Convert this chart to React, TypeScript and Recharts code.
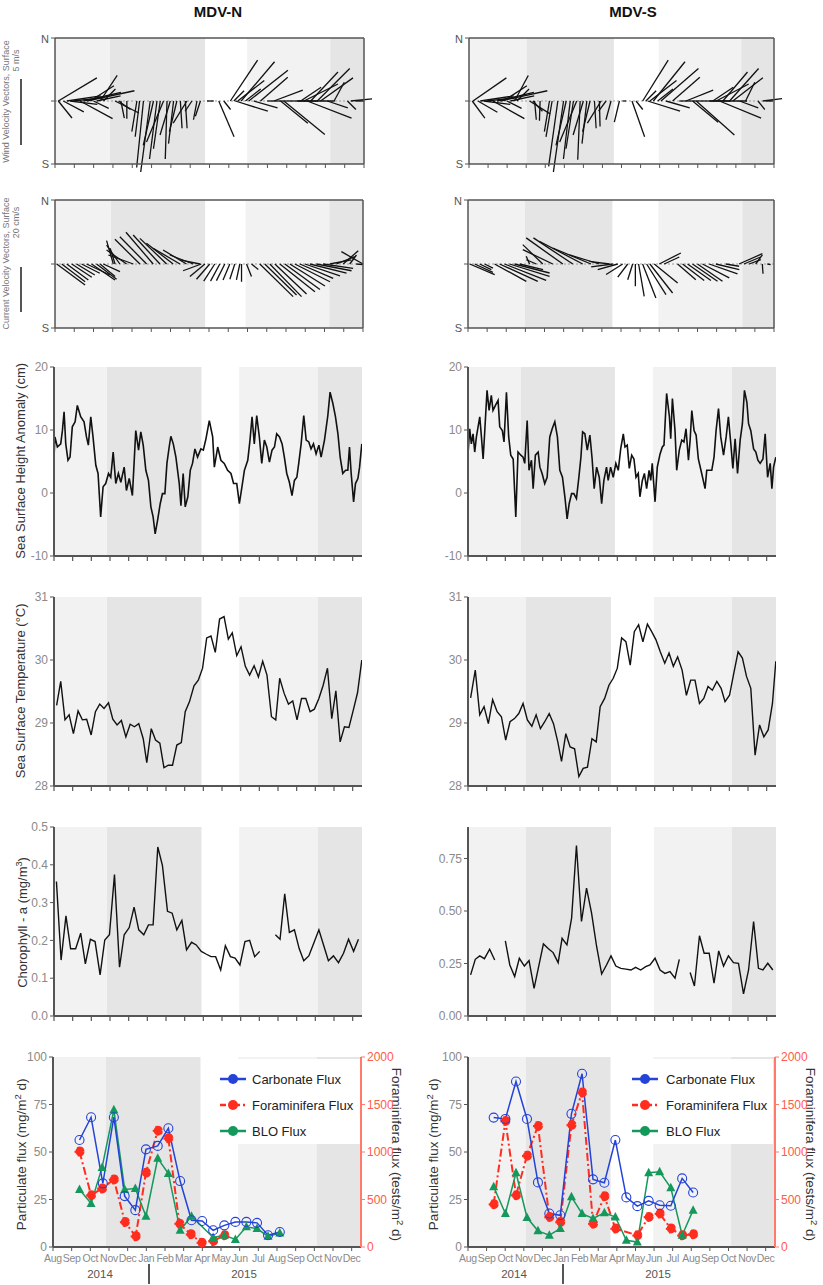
import React from "react"
import { ComposedChart, Line, XAxis, YAxis, ReferenceArea, ReferenceLine } from "recharts"

const FONT = '"Liberation Sans", Arial, sans-serif'
const AXIS = "#555"
const TICK = "#8a8a8a"
const LIGHT = "#f2f2f2"
const DARK = "#e5e5e5"
const BLUE = "#2443d8"
const RED = "#ff2d1f"
const GREEN = "#14985c"

const MONTHS = ["Aug", "Sep", "Oct", "Nov", "Dec", "Jan", "Feb", "Mar", "Apr", "May", "Jun", "Jul", "Aug", "Sep", "Oct", "Nov", "Dec"]
const MONTH_TICKS = MONTHS.map((_, i) => i)

type Stick = [number, number, number] // month, u, v
type Pt = [number, number | null] // month, value
type Season = [number, number, string]

// monsoon shading, month units from 1 Aug 2014
const seasonsWindN: Season[] = [[0, 2.85, LIGHT], [2.85, 7.77, DARK], [9.95, 14.25, LIGHT], [14.25, 16, DARK]]
const seasonsCurN: Season[] = [[0, 2.9, LIGHT], [2.9, 7.8, DARK], [9.9, 14.25, LIGHT], [14.25, 16, DARK]]
const seasonsWindS: Season[] = [[0, 3.02, LIGHT], [3.02, 7.6, DARK], [9.95, 14.28, LIGHT], [14.28, 16, DARK]]
const seasonsCurS: Season[] = [[0, 2.98, LIGHT], [2.98, 7.55, DARK], [9.95, 14.35, LIGHT], [14.35, 16, DARK]]
const seasonsN: Season[] = [[0, 2.84, LIGHT], [2.84, 7.9, DARK], [9.92, 14.14, LIGHT], [14.14, 16.5, DARK]]
const seasonsSshaS: Season[] = [[0, 2.84, LIGHT], [2.84, 7.87, DARK], [9.9, 14.14, LIGHT], [14.14, 16.5, DARK]]
const seasonsS: Season[] = [[0, 3.1, LIGHT], [3.1, 7.66, DARK], [9.96, 14.14, LIGHT], [14.14, 16.5, DARK]]

// wind sticks (m/s)
const windN: Stick[] = [
  [0.17, 2.9, 1.74], [0.17, 1.03, -1.28], [0.43, 1.54, -0.82], [0.61, 2.56, 0.38], [0.78, 2.05, -0.26],
  [0.95, 2.31, 0.26], [1.3, 2.44, -1.33], [1.47, 2.82, 0.64], [1.64, 3.59, 0.77], [1.82, 1.79, 1.15],
  [1.99, 1.15, -0.56], [2.16, 1.79, 0.38], [2.34, 1.28, 1.92], [2.51, 0.9, 0.9], [3.11, 1.79, -0.9],
  [3.29, 0.9, -0.64], [3.41, 0.26, -1.28], [3.72, 0, -1.33], [4.24, -0.38, -2.31], [4.38, -0.33, -2.69],
  [4.58, -0.51, -5.0], [4.93, -0.72, -5.38], [5.1, -0.77, -3.33], [5.28, -0.56, -4.36], [5.45, -0.51, -3.59],
  [5.62, -1.28, -3.08], [5.8, -0.13, -4.36], [5.97, -0.77, -2.56], [6.14, -0.38, -3.21], [6.31, -0.56, -2.31],
  [6.49, 0.13, -2.05], [6.75, 0.13, -2.05], [6.83, -1.03, -1.67], [7.09, -0.51, -0.77], [7.35, -0.26, -1.41],
  [7.53, -0.38, -1.15], [7.87, 0.51, 0], [8.48, 1.15, -2.69], [8.74, 0.51, -0.64], [9.08, 2.05, 3.08],
  [9.26, 0.77, 0.77], [9.34, 2.44, -0.77], [9.46, 2.0, 1.54], [9.64, 2.51, 2.95], [9.86, 1.15, 0.9],
  [10.03, 2.95, 2.31], [10.29, 1.79, -0.51], [10.64, 2.05, 1.79], [10.99, 1.79, 0], [11.33, 2.18, 0.82],
  [11.68, 2.05, -1.67], [11.85, 3.08, -2.51], [12.2, 2.05, 0], [12.54, 2.82, 0], [12.72, 1.54, 1.03],
  [12.89, 2.56, 1.28], [13.06, 3.33, -1.28], [13.24, 2.05, 2.18], [13.58, 2.44, 2.44], [13.75, 2.44, 1.74],
  [14.1, 1.54, -0.51], [14.45, 0.77, 1.41], [15.14, 0.64, -0.64], [15.31, 2.05, 0.21], [15.57, 0.64, 0],
]
const windS: Stick[] = [
  [0.21, 2.51, 1.74], [0.17, 0.95, -1.28], [0.47, 1.46, -0.85], [0.59, 2.51, 0.38], [0.77, 2.0, -0.26],
  [0.94, 2.26, 0.26], [1.26, 2.36, -1.33], [1.47, 2.77, 0.64], [1.64, 3.54, 0.77], [1.82, 1.74, 1.15],
  [1.99, 1.1, -0.56], [2.17, 1.79, 0.38], [2.39, 1.03, 1.92], [2.51, 0.92, 0.9], [3.18, 1.54, -0.97],
  [3.35, 0.72, -0.77], [3.44, 0.13, -1.41], [3.73, -0.05, -1.49], [4.22, -0.38, -2.31], [4.36, -0.46, -2.69],
  [4.66, -0.69, -4.92], [4.96, -0.77, -5.38], [5.1, -0.77, -3.33], [5.31, -0.51, -4.36], [5.48, -0.56, -3.59],
  [5.65, -1.28, -3.08], [5.83, -0.18, -4.41], [6.0, -0.77, -2.56], [6.18, -0.36, -3.21], [6.35, -0.56, -2.31],
  [6.58, 0.13, -2.05], [6.84, 0.05, -1.92], [6.93, -1.03, -1.67], [7.19, -0.56, -0.77], [7.45, -0.38, -1.41],
  [7.89, -0.38, -1.59], [8.06, 0.26, 0], [8.55, 0.95, -2.69], [8.76, 0.51, -0.64], [9.11, 1.92, 3.08],
  [9.28, 0.77, 0.77], [9.37, 2.44, -0.77], [9.49, 2.0, 1.54], [9.67, 2.38, 2.95], [9.9, 1.15, 0.9],
  [10.07, 2.82, 2.44], [10.33, 1.79, -0.51], [10.68, 2.05, 1.79], [11.03, 1.79, 0], [11.38, 2.05, 0.82],
  [11.73, 1.92, -1.59], [11.92, 2.87, -2.56], [12.27, 2.05, 0], [12.62, 2.82, 0], [12.79, 1.54, 1.03],
  [12.97, 2.44, 1.28], [13.14, 3.13, -1.28], [13.32, 1.85, 2.18], [13.67, 2.18, 2.44], [13.84, 2.26, 1.74],
  [14.19, 1.41, -0.51], [14.51, 0.69, 1.41], [15.16, 0.51, -0.64], [15.41, 1.67, 0.21], [15.59, 0.51, 0],
]

// surface current sticks (cm/s)
const curN: Stick[] = [
  [0.09, 12.6, -9.3], [0.35, 10.4, -7.9], [0.61, 9.6, -7.1], [0.87, 8.9, -5.9], [1.12, 8.1, -4.9],
  [1.38, 8.1, -4.1], [1.64, 10.4, -4.9], [1.9, 10.4, -7.1], [2.16, 8.9, -6.8], [2.34, 6.7, -5.6],
  [2.51, 7.4, -3.4], [3.03, -3.0, 10.4], [3.12, -2.2, 7.0], [3.37, -5.9, 8.4], [3.72, -8.9, 6.2],
  [4.07, -11.1, 4.0], [4.41, -11.1, 11.0], [4.76, -11.9, 12.1], [5.1, -12.1, 14.1], [5.45, -11.9, 12.9],
  [5.8, -11.9, 11.4], [6.14, -11.9, 9.2], [6.49, -11.9, 7.0], [6.83, -10.4, 6.2], [7.18, -10.4, 4.0],
  [7.53, -8.9, 1.8], [7.6, -8.1, -3.0], [7.79, -6.7, -5.6], [8.04, -5.9, -6.8], [8.3, -4.9, -7.6],
  [8.56, -4.1, -7.6], [8.82, -3.7, -7.4], [9.08, -3.0, -7.1], [9.34, -2.2, -6.8], [9.6, -1.5, -7.1],
  [9.69, 0, -7.9], [9.95, 2.2, -5.6], [10.21, 3.0, -2.4], [10.64, 14.8, -14.5], [10.9, 14.1, -13.8],
  [11.16, 14.1, -14.5], [11.42, 14.1, -13.3], [11.68, 15.6, -12.3], [11.94, 15.6, -11.3], [12.2, 15.6, -9.8],
  [12.46, 15.6, -7.9], [12.72, 14.8, -6.4], [12.98, 15.6, -5.3], [13.24, 16.3, -4.1], [13.58, 15.6, -3.0],
  [13.93, 13.3, -1.9], [14.27, 9.6, 1.8], [14.62, 8.1, 3.3], [14.97, 6.7, 5.9], [15.31, 3.0, 4.0],
  [15.65, 3.0, -0.3], [16.0, -9.6, 5.5],
]
const curS: Stick[] = [
  [0.09, 11.1, -4.7], [0.35, 8.1, -3.7], [0.61, 5.2, -2.5], [0.87, 3.7, -1.8], [1.39, 14.1, -7.7],
  [1.65, 17.0, -7.7], [1.91, 18.5, -7.3], [2.17, 17.8, -5.5], [2.43, 15.6, -4.0], [2.7, 10.4, -2.5],
  [3.22, -1.5, 3.4], [3.57, -4.4, 1.9], [3.91, -8.9, 8.6], [4.43, -13.3, 6.4], [4.96, -16.3, 11.6],
  [5.48, -17.5, 11.6], [6.0, -19.3, 10.1], [6.43, -17.0, 7.1], [6.87, -13.3, 4.1], [7.39, -8.9, 1.2],
  [7.57, -9.6, -1.3], [7.83, -8.9, -2.5], [8.09, -7.4, -4.7], [8.35, -4.4, -5.8], [8.61, -2.2, -7.0],
  [8.75, 0, -9.9], [8.92, 2.5, -14.4], [9.13, 5.9, -15.1], [9.34, 8.6, -13.6], [9.51, 10.1, -12.9],
  [9.74, 10.4, -8.4], [10.0, 9.6, 4.9], [10.26, 6.7, 3.1], [10.96, 8.1, -7.0], [11.22, 9.6, -7.3],
  [11.48, 10.4, -7.3], [11.74, 11.1, -7.7], [12.0, 11.1, -7.7], [12.26, 11.9, -6.2], [12.61, 12.6, -4.4],
  [12.96, 10.4, -2.5], [13.48, 5.9, -1.0], [14.17, 10.4, 4.6], [14.43, 7.4, 3.1], [14.7, 5.2, 1.9],
  [15.04, 3.0, 4.1], [15.39, 0.3, -4.3], [15.65, 1.5, -0.3],
]

// sea surface height anomaly (cm)
const sshaN: Pt[] = [
  [0, 5.7], [0.05, 8.9], [0.18, 7.3], [0.36, 7.8], [0.45, 9.9], [0.54, 12.9], [0.63, 7.8], [0.75, 5.2], [0.86, 5.7],
  [0.98, 10.5], [1.13, 11.3], [1.25, 13.9], [1.43, 12.1], [1.61, 11.3], [1.74, 8.9], [1.84, 7.6], [1.97, 12.1],
  [2.09, 8.9], [2.24, 4.4], [2.36, 3.1], [2.5, -3.8], [2.63, 1.0], [2.77, 1.5], [2.92, 3.1], [3.04, 2.5], [3.17, 6.5],
  [3.31, 1.5], [3.45, 3.1], [3.58, 1.7], [3.76, 4.1], [3.88, 0.4], [4.03, 2.3], [4.2, -0.4], [4.29, 4.7], [4.38, 9.9],
  [4.53, 6.8], [4.65, 9.7], [4.78, 7.6], [4.92, 3.6], [5.06, 2.0], [5.19, -2.2], [5.31, -3.8], [5.42, -6.5],
  [5.55, -4.3], [5.69, -1.7], [5.81, -0.1], [5.94, -0.1], [6.05, 4.7], [6.17, 7.3], [6.26, 9.0], [6.39, 7.8],
  [6.53, 5.7], [6.71, 1.5], [6.8, -2.0], [6.92, 3.1], [7.03, -2.2], [7.17, -0.6], [7.3, 3.6], [7.42, 4.7], [7.55, 7.0],
  [7.69, 5.7], [7.87, 7.0], [8.0, 6.8], [8.14, 8.6], [8.32, 11.5], [8.5, 8.9], [8.59, 4.1], [8.77, 7.3], [8.94, 5.2],
  [9.12, 4.7], [9.3, 3.6], [9.48, 3.1], [9.62, 1.5], [9.79, 1.5], [9.93, -1.7], [10.07, 1.0], [10.2, 3.6],
  [10.38, 5.2], [10.5, 8.4], [10.61, 12.1], [10.73, 7.8], [10.86, 12.3], [11.0, 8.9], [11.13, 4.7], [11.27, 8.4],
  [11.4, 7.3], [11.54, 4.9], [11.68, 6.8], [11.81, 7.3], [11.93, 9.4], [12.08, 8.9], [12.22, 7.8], [12.34, 5.7],
  [12.47, 3.1], [12.61, 1.7], [12.75, -0.4], [12.88, 2.0], [13.01, 2.5], [13.11, 4.7], [13.24, 7.8], [13.38, 12.3],
  [13.51, 8.4], [13.65, 8.1], [13.77, 7.0], [13.9, 7.8], [14.04, 6.2], [14.19, 7.6], [14.31, 5.7], [14.49, 8.4],
  [14.67, 12.3], [14.79, 16.0], [14.94, 14.2], [15.08, 12.1], [15.21, 9.4], [15.33, 5.7], [15.47, 3.1],
  [15.62, 3.6], [15.74, 3.6], [15.83, 7.3], [15.92, 3.1], [16.05, -1.4], [16.15, 1.5], [16.28, 2.3], [16.37, 4.1],
  [16.49, 7.8],
]
const sshaS: Pt[] = [
  [0, 6.2], [0.09, 10.2], [0.18, 7.8], [0.27, 9.4], [0.36, 6.5], [0.45, 8.9], [0.54, 10.5], [0.63, 12.1], [0.72, 8.9],
  [0.81, 5.4], [0.89, 9.4], [1.02, 16.3], [1.13, 13.1], [1.25, 15.5], [1.34, 13.1], [1.47, 13.9], [1.61, 14.7],
  [1.7, 10.5], [1.84, 9.9], [1.93, 8.1], [2.06, 16.0], [2.18, 8.9], [2.29, 6.0], [2.42, 5.4], [2.56, -3.8],
  [2.68, 6.5], [2.83, 6.0], [2.95, 5.7], [3.04, 4.7], [3.17, 11.5], [3.27, 3.6], [3.4, 5.2], [3.49, 0.7], [3.61, 6.0],
  [3.76, 6.5], [3.85, 4.1], [3.97, 3.1], [4.11, 1.5], [4.24, 2.5], [4.38, 8.9], [4.51, 10.2], [4.65, 11.3],
  [4.79, 8.9], [4.92, 3.6], [5.06, 2.5], [5.19, -0.6], [5.31, -4.1], [5.42, -1.7], [5.55, -0.1], [5.67, -0.1],
  [5.81, -0.9], [5.94, 2.5], [6.05, 5.7], [6.14, 9.7], [6.26, 9.4], [6.39, 6.8], [6.53, 9.2], [6.65, 5.4],
  [6.76, 0.7], [6.89, 4.1], [7.03, 2.5], [7.16, -1.7], [7.28, 2.0], [7.42, 4.1], [7.51, 2.0], [7.64, 4.1],
  [7.78, 2.5], [7.92, 4.7], [8.05, 3.6], [8.18, 7.0], [8.32, 9.4], [8.41, 7.3], [8.53, 7.6], [8.64, 3.9],
  [8.77, 6.0], [8.89, 5.4], [9.0, 2.5], [9.12, 3.1], [9.21, -0.6], [9.34, 2.0], [9.45, 3.1], [9.57, 0.7],
  [9.7, 3.6], [9.79, 2.0], [9.87, 4.7], [10.02, -1.4], [10.14, 4.1], [10.29, 6.2], [10.41, 7.3], [10.5, 7.6],
  [10.64, 15.8], [10.79, 12.1], [10.86, 8.6], [10.95, 15.0], [11.09, 9.9], [11.18, 3.6], [11.32, 6.8], [11.45, 8.4],
  [11.57, 8.1], [11.68, 10.2], [11.81, 5.2], [11.9, 8.4], [11.99, 13.1], [12.11, 9.9], [12.22, 9.2], [12.34, 5.4],
  [12.52, 3.1], [12.7, 0.7], [12.79, 3.6], [12.93, 3.6], [13.06, 3.6], [13.18, 5.7], [13.29, 9.9], [13.42, 13.4],
  [13.54, 8.9], [13.69, 6.0], [13.83, 8.9], [13.95, 12.1], [14.08, 7.8], [14.19, 3.9], [14.31, 8.6], [14.44, 3.1],
  [14.58, 8.4], [14.7, 11.0], [14.81, 16.3], [14.94, 14.4], [15.03, 11.0], [15.15, 9.9], [15.3, 7.0], [15.42, 6.5],
  [15.53, 5.2], [15.65, 4.7], [15.8, 5.4], [15.92, 9.4], [16.05, 2.5], [16.19, 4.7], [16.28, 0.7], [16.37, 4.1],
  [16.49, 5.7],
]

// sea surface temperature (deg C)
const sstN: Pt[] = [
  [0.14, 29.28], [0.36, 29.66], [0.59, 29.05], [0.81, 29.13], [1.04, 28.83], [1.29, 29.19], [1.52, 29.05],
  [1.75, 29.06], [1.99, 28.81], [2.22, 29.18], [2.45, 29.3], [2.68, 29.23], [2.92, 29.32], [3.15, 29.06],
  [3.38, 28.97], [3.61, 29.04], [3.85, 28.78], [4.08, 28.98], [4.31, 28.94], [4.54, 28.99], [4.78, 28.75],
  [4.97, 28.37], [5.21, 28.91], [5.44, 28.73], [5.67, 28.68], [5.89, 28.29], [6.12, 28.33], [6.35, 28.33],
  [6.58, 28.65], [6.82, 28.69], [7.03, 29.18], [7.26, 29.34], [7.5, 29.59], [7.73, 29.68], [7.96, 29.87],
  [8.18, 30.35], [8.41, 30.38], [8.64, 30.12], [8.87, 30.65], [9.11, 30.69], [9.34, 30.33], [9.55, 30.43],
  [9.79, 30.07], [10.02, 30.21], [10.25, 29.9], [10.48, 29.76], [10.72, 29.91], [10.95, 29.73], [11.18, 29.98],
  [11.41, 29.76], [11.65, 29.1], [11.88, 29.05], [12.09, 29.71], [12.33, 29.47], [12.56, 29.3], [12.79, 29.35],
  [13.02, 29.05], [13.26, 29.39], [13.49, 29.39], [13.72, 29.18], [13.95, 29.22], [14.19, 29.39], [14.42, 29.6],
  [14.65, 29.87], [14.88, 29.07], [15.1, 29.51], [15.33, 28.7], [15.56, 28.94], [15.8, 28.93], [16.03, 29.2],
  [16.26, 29.48], [16.49, 30.0],
]
const sstS: Pt[] = [
  [0.14, 29.4], [0.39, 29.84], [0.63, 29.13], [0.86, 29.26], [1.09, 28.99], [1.32, 29.37], [1.56, 29.18],
  [1.79, 29.1], [2.02, 28.73], [2.25, 29.02], [2.49, 29.07], [2.72, 29.15], [2.95, 29.31], [3.18, 29.05],
  [3.42, 28.95], [3.65, 29.13], [3.88, 28.91], [4.11, 29.02], [4.35, 29.15], [4.58, 28.99], [4.81, 28.7],
  [5.01, 28.39], [5.24, 28.83], [5.47, 28.62], [5.71, 28.59], [5.94, 28.15], [6.17, 28.28], [6.4, 28.3],
  [6.64, 28.75], [6.87, 28.7], [7.08, 29.26], [7.32, 29.39], [7.55, 29.6], [7.78, 29.71], [8.0, 29.87],
  [8.23, 30.35], [8.46, 30.29], [8.69, 29.92], [8.91, 30.45], [9.14, 30.56], [9.37, 30.29], [9.61, 30.57],
  [9.84, 30.45], [10.07, 30.32], [10.3, 30.13], [10.54, 29.95], [10.77, 30.11], [11.0, 29.9], [11.23, 30.05],
  [11.47, 29.84], [11.7, 29.44], [11.93, 29.68], [12.16, 29.68], [12.4, 29.31], [12.63, 29.39], [12.86, 29.58],
  [13.09, 29.52], [13.33, 29.66], [13.56, 29.55], [13.77, 29.34], [14.01, 29.44], [14.24, 29.79], [14.47, 30.13],
  [14.7, 30.03], [14.92, 29.74], [15.15, 29.55], [15.38, 28.49], [15.62, 28.97], [15.85, 28.78], [16.08, 28.89],
  [16.31, 29.31], [16.49, 29.98],
]

// chlorophyll-a (mg/m3); null = missing
const chlN: Pt[] = [
  [0.13, 0.356], [0.38, 0.148], [0.64, 0.265], [0.89, 0.178], [1.16, 0.178], [1.43, 0.219], [1.68, 0.138],
  [1.95, 0.203], [2.2, 0.197], [2.47, 0.109], [2.72, 0.201], [2.97, 0.215], [3.24, 0.374], [3.51, 0.129],
  [3.76, 0.215], [4.03, 0.234], [4.29, 0.288], [4.54, 0.228], [4.81, 0.215], [5.06, 0.241], [5.31, 0.241],
  [5.56, 0.447], [5.81, 0.398], [6.08, 0.277], [6.33, 0.272], [6.58, 0.228], [6.85, 0.253], [7.1, 0.175],
  [7.37, 0.195], [7.62, 0.188], [7.89, 0.171], [8.14, 0.164], [8.41, 0.157], [8.66, 0.157], [8.93, 0.122],
  [9.18, 0.186], [9.45, 0.157], [9.7, 0.153], [9.96, 0.135], [10.23, 0.197], [10.48, 0.2], [10.75, 0.157],
  [11.02, 0.171], [11.45, null], [11.86, 0.215], [12.11, 0.203], [12.36, 0.323], [12.61, 0.221], [12.88, 0.228],
  [13.13, 0.179], [13.38, 0.146], [13.65, 0.159], [13.92, 0.193], [14.19, 0.228], [14.44, 0.188], [14.7, 0.146],
  [14.97, 0.159], [15.24, 0.141], [15.51, 0.166], [15.78, 0.203], [16.05, 0.171], [16.31, 0.203],
]
const chlS: Pt[] = [
  [0.14, 0.196], [0.39, 0.27], [0.63, 0.286], [0.88, 0.273], [1.16, 0.318], [1.43, 0.267], [1.7, null],
  [2.0, 0.358], [2.24, 0.243], [2.5, 0.188], [2.75, 0.275], [3.02, 0.238], [3.27, 0.264], [3.54, 0.132],
  [4.04, 0.343], [4.31, 0.32], [4.56, 0.302], [4.83, 0.254], [5.04, 0.37], [5.3, 0.339], [5.55, 0.466],
  [5.81, 0.812], [6.08, 0.45], [6.35, 0.609], [6.62, 0.49], [6.89, 0.331], [7.16, 0.2], [7.42, 0.243],
  [7.66, 0.286], [7.92, 0.238], [8.19, 0.227], [8.46, 0.223], [8.73, 0.219], [8.98, 0.232], [9.25, 0.219],
  [9.52, 0.235], [9.75, 0.243], [10.02, 0.275], [10.29, 0.219], [10.55, 0.203], [10.82, 0.211], [11.09, 0.18],
  [11.32, 0.27], [11.6, null], [11.9, 0.207], [12.13, 0.143], [12.4, 0.382], [12.65, 0.299], [12.92, 0.299],
  [13.18, 0.156], [13.43, 0.31], [13.69, 0.238], [13.95, 0.286], [14.22, 0.254], [14.49, 0.251], [14.76, 0.105],
  [15.03, 0.219], [15.3, 0.45], [15.56, 0.227], [15.8, 0.219], [16.06, 0.251], [16.33, 0.219],
]

// sediment trap fluxes: carbonate & BLO in mg/m2 d, foraminifera in tests/m2 d
const carbN: Pt[] = [
  [1.42, 56.3], [2.04, 68.3], [2.67, 33.5], [3.26, 68.3], [3.84, 26.8], [4.41, 19.4], [4.98, 51.4], [5.61, 53.2],
  [6.18, 62.5], [6.81, 34.7], [7.42, 14.1], [7.99, 13.7], [8.58, 8.8], [9.18, 11.4], [9.77, 13.2], [10.36, 13.2],
  [10.93, 12.7], [11.52, 6.2], [12.15, 7.9],
]
const foramN: Pt[] = [
  [1.42, 1004], [2.04, 546], [2.63, 616], [3.26, 711], [3.85, 264], [4.43, 113], [4.98, 782], [5.61, 1225],
  [6.18, 1144], [6.77, 246], [7.38, 134], [7.96, 46], [8.58, 63], [9.18, 123],
]
const bloN: Pt[] = [
  [1.42, 30.3], [2.04, 22.9], [2.63, 41.9], [3.26, 72.2], [3.84, 30.3], [4.41, 30.8], [4.98, 16.2], [5.61, 46.7],
  [6.18, 38.7], [6.81, 8.8], [7.42, 16.2], [8.58, 5.0], [9.18, 6.2], [9.77, 4.0], [10.36, 10.6], [10.93, 9.7],
  [11.52, 5.6], [12.15, 7.4],
]
const carbS: Pt[] = [
  [1.38, 68.1], [2.01, 67.4], [2.58, 87.1], [3.17, 67.4], [3.76, 34.0], [4.37, 17.6], [4.96, 16.7], [5.56, 70.1],
  [6.13, 91.2], [6.72, 35.6], [7.33, 33.8], [7.92, 56.3], [8.51, 26.1], [9.1, 21.5], [9.71, 24.3], [10.3, 22.0],
  [10.9, 21.7], [11.51, 36.1], [12.1, 28.7],
]
const foramS: Pt[] = [
  [1.38, 451], [2.01, 1327], [2.58, 546], [3.17, 961], [3.76, 1275], [4.37, 317], [4.96, 264], [5.56, 1285],
  [6.13, 1627], [6.72, 246], [7.33, 535], [7.92, 194], [9.1, 123], [9.71, 317], [10.3, 352], [10.9, 194],
  [11.51, 123], [12.1, 134],
]
const bloS: Pt[] = [
  [1.38, 31.7], [2.01, 17.6], [2.58, 39.1], [3.17, 15.5], [3.76, 8.5], [4.37, 6.2], [4.96, 9.7], [5.56, 26.4],
  [6.13, 17.6], [6.72, 15.0], [7.33, 18.0], [7.92, 15.8], [8.51, 3.5], [9.1, 2.6], [9.71, 39.1], [10.3, 39.6],
  [10.9, 31.2], [11.51, 6.2], [12.1, 19.4],
]

const LEGEND = [
  { name: "Carbonate Flux", color: BLUE, dash: undefined },
  { name: "Foraminifera Flux", color: RED, dash: "6 3 2 3" },
  { name: "BLO Flux", color: GREEN, dash: undefined },
]

const toRows = (pts: Pt[]) => pts.map(([t, v]) => ({ t, v }))

const shade = (seasons: Season[], yAxisId?: string) =>
  seasons.map(([a, b, c], i) => (
    <ReferenceArea key={"s" + i} x1={a} x2={b} yAxisId={yAxisId as any} fill={c} fillOpacity={1} stroke="none" />
  ))

function VText({ cx, cy, angle = -90, size = 13, color = "#333", children }: any) {
  return (
    <div
      style={{
        position: "absolute", left: cx - 200, top: cy - size * 0.6, width: 400, textAlign: "center",
        fontSize: size, lineHeight: `${size * 1.2}px`, color, whiteSpace: "nowrap", transform: `rotate(${angle}deg)`,
      }}
    >
      {children}
    </div>
  )
}

function VectorPanel({ x0, x1, y0, y1, sticks, pxPerUnit, seasons }: any) {
  const LW = 28, RW = 8, TOP = 5, BH = 8
  const w = x1 - x0, h = y1 - y0
  const kx = pxPerUnit / (w / 16)
  const ky = pxPerUnit / (h / 2)
  return (
    <div style={{ position: "absolute", left: x0 - LW, top: y0 - TOP }}>
      <ComposedChart width={w + LW + RW} height={h + TOP + BH} margin={{ top: TOP, right: 0, left: 0, bottom: 0 }}>
        {shade(seasons)}
        <XAxis type="number" dataKey="t" domain={[0, 16]} ticks={MONTH_TICKS} tickFormatter={() => ""} height={BH}
          tickSize={4} axisLine={{ stroke: AXIS, strokeWidth: 1.5 }} tickLine={{ stroke: AXIS }} allowDataOverflow />
        <YAxis type="number" domain={[-1, 1]} ticks={[-1, 0, 1]} width={LW} tickSize={4}
          tickFormatter={(v: number) => (v === 1 ? "N" : v === -1 ? "S" : "")}
          tick={{ fill: AXIS, fontSize: 11 }} axisLine={{ stroke: AXIS, strokeWidth: 1.5 }} tickLine={{ stroke: AXIS }} allowDataOverflow />
        <YAxis yAxisId="r" orientation="right" type="number" domain={[-1, 1]} ticks={[-1, 0, 1]} width={RW} tickSize={4}
          tickFormatter={() => ""} axisLine={{ stroke: AXIS, strokeWidth: 1.5 }} tickLine={{ stroke: AXIS }} />
        <ReferenceLine y={1} stroke={AXIS} strokeWidth={1.5} />
        <ReferenceLine y={0} stroke="#9a9a9a" strokeDasharray="2 2" />
        {sticks.map(([t, u, v]: Stick, i: number) => (
          <ReferenceLine key={i} ifOverflow="visible" stroke="#111" strokeWidth={1.3}
            segment={[{ x: t, y: 0 }, { x: t + u * kx, y: v * ky }]} />
        ))}
      </ComposedChart>
    </div>
  )
}

function SeriesPanel({ x0, x1, y0, y1, pts, domain, ticks, fmt, seasons, sw = 1.4 }: any) {
  const LW = 40, TOP = 8, BH = 8
  return (
    <div style={{ position: "absolute", left: x0 - LW, top: y0 - TOP }}>
      <ComposedChart width={x1 - x0 + LW + 4} height={y1 - y0 + TOP + BH} margin={{ top: TOP, right: 4, left: 0, bottom: 0 }}>
        {shade(seasons)}
        <XAxis type="number" dataKey="t" domain={[0, 16.5]} ticks={MONTH_TICKS} tickFormatter={() => ""} height={BH}
          tickSize={5} axisLine={{ stroke: AXIS, strokeWidth: 2 }} tickLine={{ stroke: AXIS, strokeWidth: 1.2 }} allowDataOverflow />
        <YAxis type="number" domain={domain} ticks={ticks} tickFormatter={fmt} width={LW} tickSize={4}
          tick={{ fill: TICK, fontSize: 12 }} axisLine={{ stroke: AXIS, strokeWidth: 2 }} tickLine={{ stroke: AXIS }} allowDataOverflow />
        <Line data={toRows(pts)} dataKey="v" type="linear" stroke="#111" strokeWidth={sw} dot={false}
          connectNulls={false} isAnimationActive={false} />
      </ComposedChart>
    </div>
  )
}

const Tri = (props: any) => {
  const { cx, cy, index } = props
  if (cx == null || cy == null) return <g key={"n" + index} />
  return <polygon key={"t" + index} points={`${cx},${cy - 5} ${cx - 4.5},${cy + 3.5} ${cx + 4.5},${cy + 3.5}`} fill={GREEN} />
}

function FluxPanel({ x0, x1, y0, y1, carb, foram, blo, seasons }: any) {
  const LW = 40, RW = 40, TOP = 8, BH = 24
  return (
    <div style={{ position: "absolute", left: x0 - LW, top: y0 - TOP }}>
      <ComposedChart width={x1 - x0 + LW + RW} height={y1 - y0 + TOP + BH} margin={{ top: TOP, right: 0, left: 0, bottom: 0 }}>
        {shade(seasons, "l")}
        <XAxis type="number" dataKey="t" domain={[0, 16.5]} ticks={MONTH_TICKS} tickFormatter={(i: number) => MONTHS[i]}
          interval={0} height={BH} tickSize={4} tickMargin={4} tick={{ fill: TICK, fontSize: 10.5, letterSpacing: -0.3 }}
          axisLine={{ stroke: AXIS, strokeWidth: 2 }} tickLine={{ stroke: AXIS }} allowDataOverflow />
        <YAxis yAxisId="l" type="number" domain={[0, 100]} ticks={[0, 25, 50, 75, 100]} width={LW} tickSize={4}
          tick={{ fill: TICK, fontSize: 12 }} axisLine={{ stroke: AXIS, strokeWidth: 2 }} tickLine={{ stroke: AXIS }} />
        <YAxis yAxisId="r" orientation="right" type="number" domain={[0, 2000]} ticks={[0, 500, 1000, 1500, 2000]}
          width={RW} tickSize={4} tick={{ fill: "#ff5a4a", fontSize: 12 }}
          axisLine={{ stroke: "#ff7a6a", strokeWidth: 2 }} tickLine={{ stroke: "#ff7a6a" }} />
        <Line yAxisId="r" data={toRows(foram)} dataKey="v" stroke={RED} strokeWidth={2} strokeDasharray="8 3 2 3"
          dot={{ r: 4, fill: RED, stroke: RED }} isAnimationActive={false} />
        <Line yAxisId="l" data={toRows(blo)} dataKey="v" stroke={GREEN} strokeWidth={1.5} dot={Tri} isAnimationActive={false} />
        <Line yAxisId="l" data={toRows(carb)} dataKey="v" stroke={BLUE} strokeWidth={1.5}
          dot={{ r: 4.5, fill: "none", stroke: BLUE, strokeWidth: 1.1 }} isAnimationActive={false} />
      </ComposedChart>
    </div>
  )
}

function FluxLegend({ left, top, width, mx, tx }: any) {
  return (
    <div style={{ position: "absolute", left, top, width, height: 85, background: "#fff" }}>
      {LEGEND.map((it, i) => (
        <div key={i} style={{ position: "absolute", left: mx, top: 13 + i * 26, height: 14, display: "flex", alignItems: "center" }}>
          <svg width={26} height={14}>
            <line x1={0} x2={26} y1={7} y2={7} stroke={it.color} strokeWidth={2.5} strokeDasharray={it.dash} />
            <circle cx={13} cy={7} r={5} fill={it.color} />
          </svg>
          <span style={{ marginLeft: tx - mx - 26, fontSize: 13, color: "#222", whiteSpace: "nowrap" }}>{it.name}</span>
        </div>
      ))}
    </div>
  )
}

function YearLabels({ x0 }: any) {
  return (
    <>
      <div style={{ position: "absolute", left: x0 + 46 - 20, top: 1268, width: 40, textAlign: "center", fontSize: 11.5, color: "#555" }}>2014</div>
      <div style={{ position: "absolute", left: x0 + 94, top: 1264, width: 1.5, height: 20, background: "#555" }} />
      <div style={{ position: "absolute", left: x0 + 190 - 20, top: 1268, width: 40, textAlign: "center", fontSize: 11.5, color: "#555" }}>2015</div>
    </>
  )
}

export default function App() {
  const sup = (s: string) => <sup style={{ fontSize: "0.7em" }}>{s}</sup>
  return (
    <div style={{ position: "absolute", left: 0, top: 0, width: 823, height: 1285, background: "#fff", fontFamily: FONT, overflow: "hidden" }}>
      <div style={{ position: "absolute", left: 168, top: 3, width: 100, textAlign: "center", fontSize: 15, fontWeight: "bold", color: "#111" }}>MDV-N</div>
      <div style={{ position: "absolute", left: 583, top: 3, width: 100, textAlign: "center", fontSize: 15, fontWeight: "bold", color: "#111" }}>MDV-S</div>

      {/* wind */}
      <VText cx={6} cy={101} size={9} color="#777">Wind Velocity Vectors, Surface</VText>
      <VText cx={16} cy={60} size={9} color="#777">5 m/s</VText>
      <div style={{ position: "absolute", left: 20, top: 79, width: 1.5, height: 66, background: "#555" }} />
      <VectorPanel x0={55} x1={364} y0={38} y1={164} sticks={windN} pxPerUnit={13.3} seasons={seasonsWindN} />
      <VectorPanel x0={469} x1={774} y0={38} y1={164} sticks={windS} pxPerUnit={13.3} seasons={seasonsWindS} />

      {/* surface current */}
      <VText cx={6} cy={263} size={9} color="#777">Current Velocity Vectors, Surface</VText>
      <VText cx={16} cy={222} size={9} color="#777">20 cm/s</VText>
      <div style={{ position: "absolute", left: 20, top: 267, width: 1.5, height: 45, background: "#555" }} />
      <VectorPanel x0={55} x1={363} y0={200} y1={328} sticks={curN} pxPerUnit={2.25} seasons={seasonsCurN} />
      <VectorPanel x0={468} x1={774} y0={200} y1={328} sticks={curS} pxPerUnit={2.25} seasons={seasonsCurS} />

      {/* SSHA */}
      <VText cx={21} cy={461}>Sea Surface Height Anomaly (cm)</VText>
      <SeriesPanel x0={54} x1={362} y0={367} y1={556} pts={sshaN} domain={[-10, 20]} ticks={[-10, 0, 10, 20]} seasons={seasonsN} sw={1.6} />
      <SeriesPanel x0={468} x1={776} y0={367} y1={556} pts={sshaS} domain={[-10, 20]} ticks={[-10, 0, 10, 20]} seasons={seasonsSshaS} sw={1.6} />

      {/* SST */}
      <VText cx={21} cy={691}>Sea Surface Temperature (°C)</VText>
      <SeriesPanel x0={54} x1={362} y0={597} y1={786} pts={sstN} domain={[28, 31]} ticks={[28, 29, 30, 31]} seasons={seasonsN} />
      <SeriesPanel x0={468} x1={776} y0={597} y1={786} pts={sstS} domain={[28, 31]} ticks={[28, 29, 30, 31]} seasons={seasonsS} />

      {/* Chl-a */}
      <VText cx={21} cy={921}>Chorophyll - a (mg/m{sup("3")})</VText>
      <SeriesPanel x0={54} x1={362} y0={827} y1={1016} pts={chlN} domain={[0, 0.5]} ticks={[0, 0.1, 0.2, 0.3, 0.4, 0.5]}
        fmt={(v: number) => v.toFixed(1)} seasons={seasonsN} />
      <SeriesPanel x0={468} x1={776} y0={827} y1={1016} pts={chlS} domain={[0, 0.9]} ticks={[0, 0.25, 0.5, 0.75]}
        fmt={(v: number) => v.toFixed(2)} seasons={seasonsS} />

      {/* fluxes */}
      <VText cx={20} cy={1152} size={13.5}>Particulate flux (mg/m{sup("2")} d)</VText>
      <VText cx={398} cy={1152} size={13.5} angle={90}>Foraminifera flux (tests/m{sup("2")} d)</VText>
      <FluxPanel x0={53} x1={361} y0={1057} y1={1247} carb={carbN} foram={foramN} blo={bloN} seasons={seasonsN} />
      <FluxLegend left={213} top={1059} width={147} mx={7} tx={39} />
      <YearLabels x0={54} />

      <VText cx={432} cy={1152} size={13.5}>Particulate flux (mg/m{sup("2")} d)</VText>
      <VText cx={812} cy={1152} size={13.5} angle={90}>Foraminifera flux (tests/m{sup("2")} d)</VText>
      <FluxPanel x0={468} x1={775} y0={1057} y1={1247} carb={carbS} foram={foramS} blo={bloS} seasons={seasonsS} />
      <FluxLegend left={621} top={1059} width={152} mx={11} tx={45} />
      <YearLabels x0={468} />
    </div>
  )
}
